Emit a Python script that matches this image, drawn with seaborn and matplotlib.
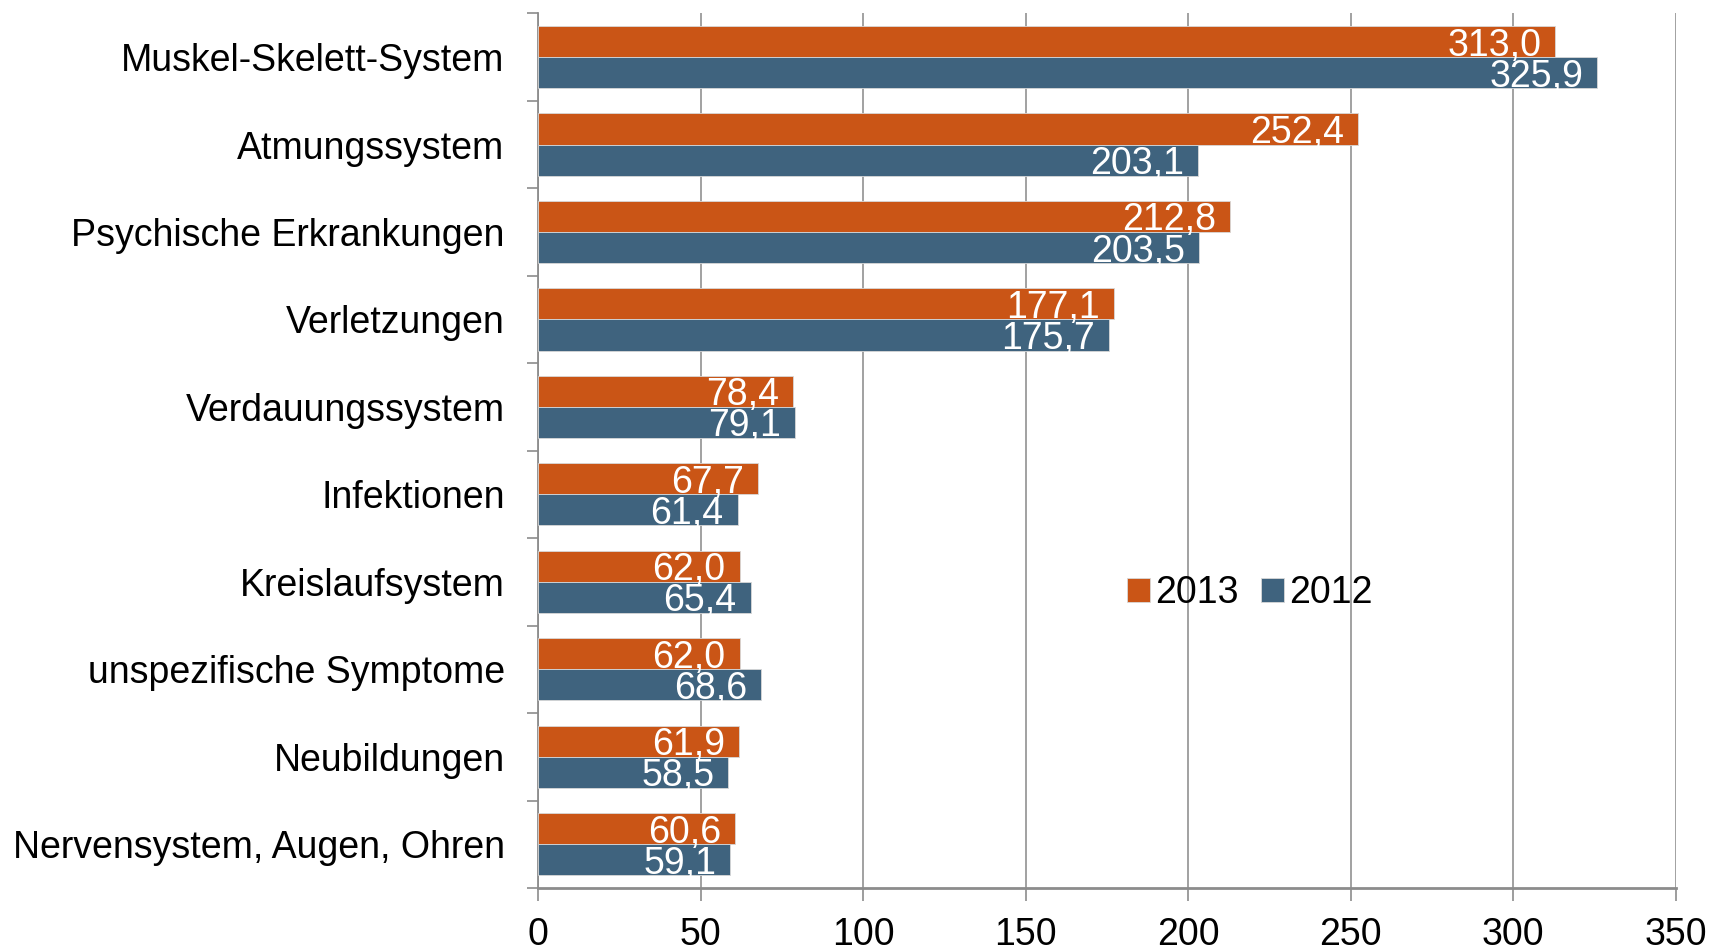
import pandas as pd
import seaborn as sns
import matplotlib.pyplot as plt
from matplotlib.ticker import FixedLocator

# Data (AU-Tage je 100 Versichertenjahre)
categories = ['Muskel-Skelett-System', 'Atmungssystem', 'Psychische Erkrankungen',
              'Verletzungen', 'Verdauungssystem', 'Infektionen', 'Kreislaufsystem',
              'unspezifische Symptome', 'Neubildungen', 'Nervensystem, Augen, Ohren']
values_2013 = [313.0, 252.4, 212.8, 177.1, 78.4, 67.7, 62.0, 62.0, 61.9, 60.6]
values_2012 = [325.9, 203.1, 203.5, 175.7, 79.1, 61.4, 65.4, 68.6, 58.5, 59.1]
years = ['2013', '2012']
x_ticks = [0, 50, 100, 150, 200, 250, 300, 350]

colors = {'2013': '#CA5516', '2012': '#3F637E'}

df = pd.DataFrame({
    'Kategorie': categories * 2,
    'Wert': values_2013 + values_2012,
    'Jahr': [years[0]] * len(categories) + [years[1]] * len(categories),
})

sns.set_style('white')
plt.rcParams['font.family'] = ['Liberation Sans', 'DejaVu Sans']
plt.rcParams['text.color'] = 'black'
plt.rcParams['xtick.color'] = 'black'
plt.rcParams['ytick.color'] = 'black'

fs = 27

fig = plt.figure(figsize=(17.15, 9.52), dpi=100)
ax = fig.add_axes([0.3137, 0.0672, 0.977 - 0.3137, 0.986 - 0.0672])

sns.barplot(data=df, x='Wert', y='Kategorie', hue='Jahr', hue_order=years,
            order=categories, palette=colors, orient='h', width=0.71,
            edgecolor='#d8d8d8', linewidth=0.6, saturation=1, ax=ax, zorder=3)

# value labels inside bar ends
for cont in ax.containers:
    labels = [f'{b.get_width():.1f}'.replace('.', ',') for b in cont]
    texts = ax.bar_label(cont, labels=labels, padding=-10, color='white', fontsize=fs)
    for t in texts:
        t.set_ha('right')
        t.set_va('center_baseline')

ax.set_xlim(0, 350)
ax.set_ylim(len(categories) - 0.5, -0.5)
ax.set_xticks(x_ticks)
ax.set_xticklabels([str(t) for t in x_ticks], fontsize=fs)
ax.set_xlabel('')
ax.set_ylabel('')
ax.tick_params(axis='y', which='major', length=0, pad=24, labelsize=fs, labelcolor='black')
ax.yaxis.set_minor_locator(FixedLocator([i - 0.5 for i in range(len(categories) + 1)]))
ax.tick_params(axis='y', which='minor', left=True, length=8, width=1.2, color='#8c8c8c')
ax.tick_params(axis='x', which='major', bottom=True, length=9, width=1.2,
               color='#8c8c8c', labelcolor='black', pad=12)

ax.grid(axis='x', color='#9a9a9a', linewidth=1.3, zorder=0)
ax.set_axisbelow(True)
for side in ['top', 'right']:
    ax.spines[side].set_visible(False)
ax.spines['left'].set_color('#8c8c8c')
ax.spines['left'].set_linewidth(1.3)
ax.spines['bottom'].set_color('#8c8c8c')
ax.spines['bottom'].set_linewidth(2)

ax.legend(loc='center', bbox_to_anchor=(0.626, 0.337), ncol=2, frameon=False,
          fontsize=fs, handlelength=0.6, handleheight=0.6, handletextpad=0.15,
          columnspacing=0.6, title=None)

fig.savefig('out.png', dpi=100)
